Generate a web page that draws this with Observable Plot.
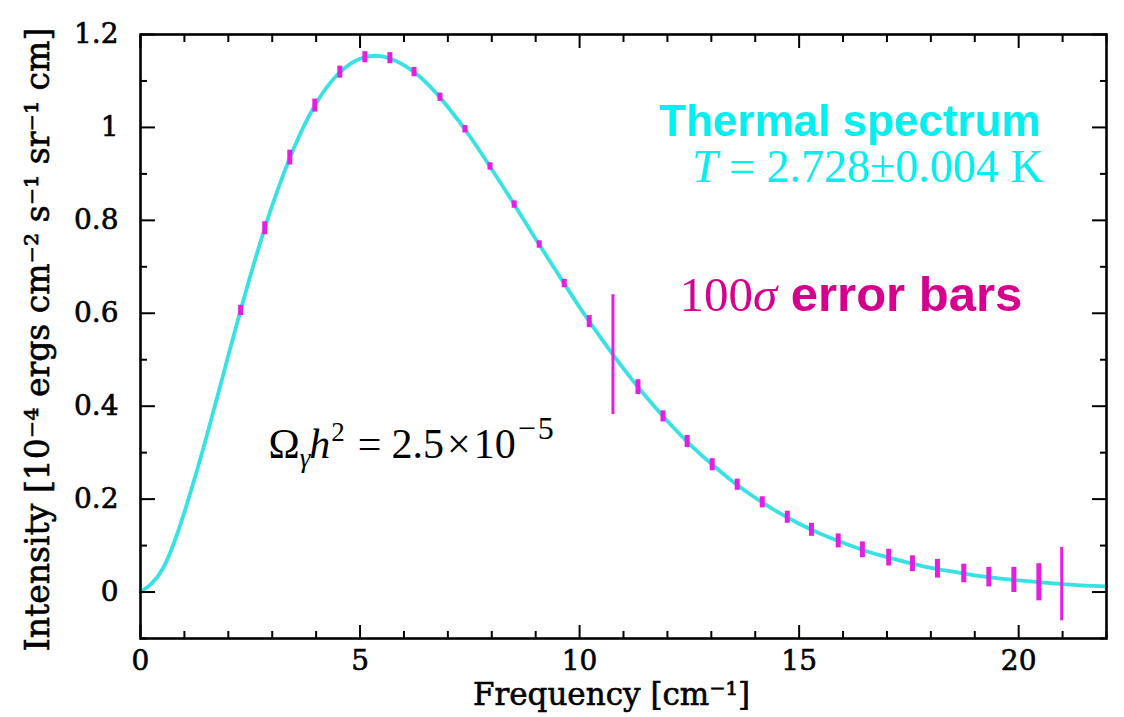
<!DOCTYPE html>
<html><head><meta charset="utf-8">
<script src="https://cdn.jsdelivr.net/npm/d3@7"></script>
<script src="https://cdn.jsdelivr.net/npm/@observablehq/plot@0.6"></script>
<style>
body{margin:0;background:#fff}
#chart svg{display:block}
#chart g[aria-label$="tick label"] text, #chart .axis-title text{stroke:#000;stroke-width:0.6px}
</style>
</head><body><div id="chart"></div><script>
// Measured points (frequency in cm^-1, intensity in 1e-4 ergs cm^-2 s^-1 sr^-1 cm)
const freq = [2.28, 2.83, 3.40, 3.97, 4.54, 5.11, 5.68, 6.23, 6.82, 7.39, 7.96, 8.51, 9.08, 9.65, 10.22, 10.76, 11.33, 11.90, 12.45, 13.02, 13.59, 14.16, 14.73, 15.28, 15.89, 16.44, 17.04, 17.58, 18.15, 18.75, 19.32, 19.89, 20.46, 20.98];
const intensity = [0.606, 0.783, 0.935, 1.047, 1.119, 1.151, 1.149, 1.119, 1.065, 0.996, 0.916, 0.834, 0.748, 0.664, 0.582, 0.511, 0.441, 0.378, 0.324, 0.274, 0.231, 0.193, 0.161, 0.134, 0.110, 0.091, 0.074, 0.061, 0.050, 0.040, 0.032, 0.026, 0.021, 0.017];
// 100-sigma error bar half-lengths
const errHalf = [0.011, 0.014, 0.016, 0.014, 0.013, 0.012, 0.012, 0.010, 0.009, 0.008, 0.008, 0.008, 0.008, 0.009, 0.013, 0.129, 0.016, 0.012, 0.013, 0.013, 0.012, 0.012, 0.013, 0.014, 0.015, 0.017, 0.018, 0.017, 0.020, 0.020, 0.021, 0.027, 0.040, 0.079];
// Thermal (blackbody) fit curve
const curveFreq = [0, 0.5, 1, 1.5, 2, 2.5, 3, 3.5, 4, 4.5, 5, 5.5, 6, 6.5, 7, 7.5, 8, 8.5, 9, 9.5, 10, 10.5, 11, 11.5, 12, 12.5, 13, 13.5, 14, 14.5, 15, 15.5, 16, 16.5, 17, 17.5, 18, 18.5, 19, 19.5, 20, 20.5, 21, 21.5, 22];
const curveIntensity = [0, 0.049, 0.172, 0.333, 0.509, 0.680, 0.832, 0.957, 1.052, 1.115, 1.148, 1.153, 1.134, 1.097, 1.044, 0.981, 0.910, 0.836, 0.760, 0.686, 0.613, 0.545, 0.481, 0.422, 0.368, 0.319, 0.276, 0.237, 0.203, 0.173, 0.147, 0.125, 0.106, 0.089, 0.075, 0.063, 0.052, 0.044, 0.036, 0.030, 0.025, 0.021, 0.017, 0.014, 0.012];

const xMajorTicks = [0, 5, 10, 15, 20];
const xMinorTicks = [1, 2, 3, 4, 6, 7, 8, 9, 11, 12, 13, 14, 16, 17, 18, 19, 21, 22];
const yMajorTicks = [0, 0.2, 0.4, 0.6, 0.8, 1, 1.2];
const yTickLabels = ["0", "0.2", "0.4", "0.6", "0.8", "1", "1.2"];
const yMinorTicks = [-0.1, 0.1, 0.3, 0.5, 0.7, 0.9, 1.1];

const xTitle = "Frequency [cm\u207B\u00B9]";
const yTitle = "Intensity [10\u207B\u2074 ergs cm\u207B\u00B2 s\u207B\u00B9 sr\u207B\u00B9 cm]";
const noteThermal = "Thermal spectrum";
const noteTemp = "T = 2.728\u00B10.004 K";
const noteErr = "100\u03C3 error bars";
const noteOmega = "\u03A9\u03B3h2 = 2.5\u00D710\u22125";

const points = freq.map((f, i) => ({f, v: intensity[i], e: errHalf[i]}));
const curve = curveFreq.map((f, i) => ({f, v: curveIntensity[i]}));

const tickFont = "DejaVu Serif";
const serif = "Liberation Serif";
const sans = "Liberation Sans";
const cyan = "#00efef";
const curveColor = "#38e2e2";
const barColor = "#e61ee2";
const magText = "#d6008e";

const chart = Plot.plot({
  width: 1124, height: 717,
  marginLeft: 140, marginRight: 18, marginTop: 34, marginBottom: 79,
  x: {domain: [0, 22]},
  y: {domain: [-0.1, 1.2]},
  style: {background: "white", color: "black", fontFamily: tickFont},
  marks: [
    Plot.line(curve, {x: "f", y: "v", stroke: curveColor, strokeWidth: 3.8, curve: "natural"}),
    Plot.ruleX(points, {x: "f", y1: d => d.v - d.e, y2: d => d.v + d.e, stroke: barColor, strokeWidth: d => d.e > 0.05 ? 3 : 5}),
    // bottom axis
    Plot.axisX(xMajorTicks, {anchor: "bottom", tickSize: -13, tickPadding: 25, strokeWidth: 2, fontSize: 28, label: null, tickFormat: d => String(d)}),
    Plot.axisX(xMinorTicks, {anchor: "bottom", tickSize: -7, strokeWidth: 2, label: null, tickFormat: () => ""}),
    Plot.axisX(xMajorTicks, {anchor: "top", tickSize: -13, strokeWidth: 2, label: null, tickFormat: () => ""}),
    Plot.axisX(xMinorTicks, {anchor: "top", tickSize: -7, strokeWidth: 2, label: null, tickFormat: () => ""}),
    // left axis
    Plot.axisY(yMajorTicks, {anchor: "left", tickSize: -15, tickPadding: 37, strokeWidth: 2, fontSize: 28, label: null, tickFormat: d => yTickLabels[yMajorTicks.indexOf(d)]}),
    Plot.axisY(yMinorTicks, {anchor: "left", tickSize: -7, strokeWidth: 2, label: null, tickFormat: () => ""}),
    Plot.axisY(yMajorTicks, {anchor: "right", tickSize: -15, strokeWidth: 2, label: null, tickFormat: () => ""}),
    Plot.axisY(yMinorTicks, {anchor: "right", tickSize: -7, strokeWidth: 2, label: null, tickFormat: () => ""}),
    Plot.frame({stroke: "black", strokeWidth: 2.6}),
    // axis titles
    Plot.text([xTitle], {text: d => d, frameAnchor: "bottom", textAnchor: "middle", dx: -12, dy: 66, lineAnchor: "bottom", fontSize: 31, fontFamily: tickFont, className: "axis-title"}),
    Plot.text([yTitle], {text: d => d, frameAnchor: "left", textAnchor: "middle", rotate: -90, dx: -102, dy: 3, lineAnchor: "middle", fontSize: 33, fontFamily: tickFont, className: "axis-title"}),
    // annotations
    Plot.text([noteThermal], {text: d => d, frameAnchor: "top-right", textAnchor: "end", dx: -66, dy: 101, lineAnchor: "bottom", fontSize: 44, fontWeight: "bold", fontFamily: sans, fill: cyan}),
    Plot.text([noteTemp], {text: d => d, frameAnchor: "top-right", textAnchor: "end", dx: -63, dy: 147, lineAnchor: "bottom", fontSize: 46, fontFamily: serif, fill: cyan}),
    Plot.text([noteErr], {text: d => d, frameAnchor: "top-left", textAnchor: "start", dx: 539, dy: 276, lineAnchor: "bottom", fontSize: 49, fontFamily: serif, fill: magText}),
    Plot.text([noteOmega], {text: d => d, frameAnchor: "top-left", textAnchor: "start", dx: 128, dy: 423, lineAnchor: "bottom", fontSize: 42, fontFamily: serif, fill: "black"})
  ]
});

function rich(svg, match, parts) {
  d3.select(svg).selectAll("text").filter(function () { return this.textContent === match; }).each(function () {
    const t = d3.select(this);
    t.text(null);
    for (const p of parts) {
      const s = t.append("tspan").text(p.t);
      for (const k in p) if (k !== "t") s.attr(k, p[k]);
    }
  });
}
rich(chart, noteTemp, [{t: "T", "font-style": "italic"}, {t: " = 2.728\u00B10.004 K"}]);
rich(chart, noteErr, [{t: "100"}, {t: "\u03C3", "font-style": "italic"}, {t: " error bars", "font-family": sans, "font-weight": "bold"}]);
rich(chart, noteOmega, [
  {t: "\u03A9"},
  {t: "\u03B3", "font-style": "italic", "font-size": "27px", dy: "9"},
  {t: "h", "font-style": "italic", dy: "-9", dx: "-1"},
  {t: "2", "font-size": "27px", dy: "-17", dx: "1"},
  {t: "=", dy: "17", dx: "13"},
  {t: "2.5", dx: "10"},
  {t: "\u00D7", dx: "3"},
  {t: "10", dx: "3"},
  {t: "\u2212", "font-size": "32px", dy: "-19", dx: "2"},
  {t: "5", "font-size": "32px", dx: "2"}
]);

document.getElementById("chart").appendChild(chart);
</script></body></html>
